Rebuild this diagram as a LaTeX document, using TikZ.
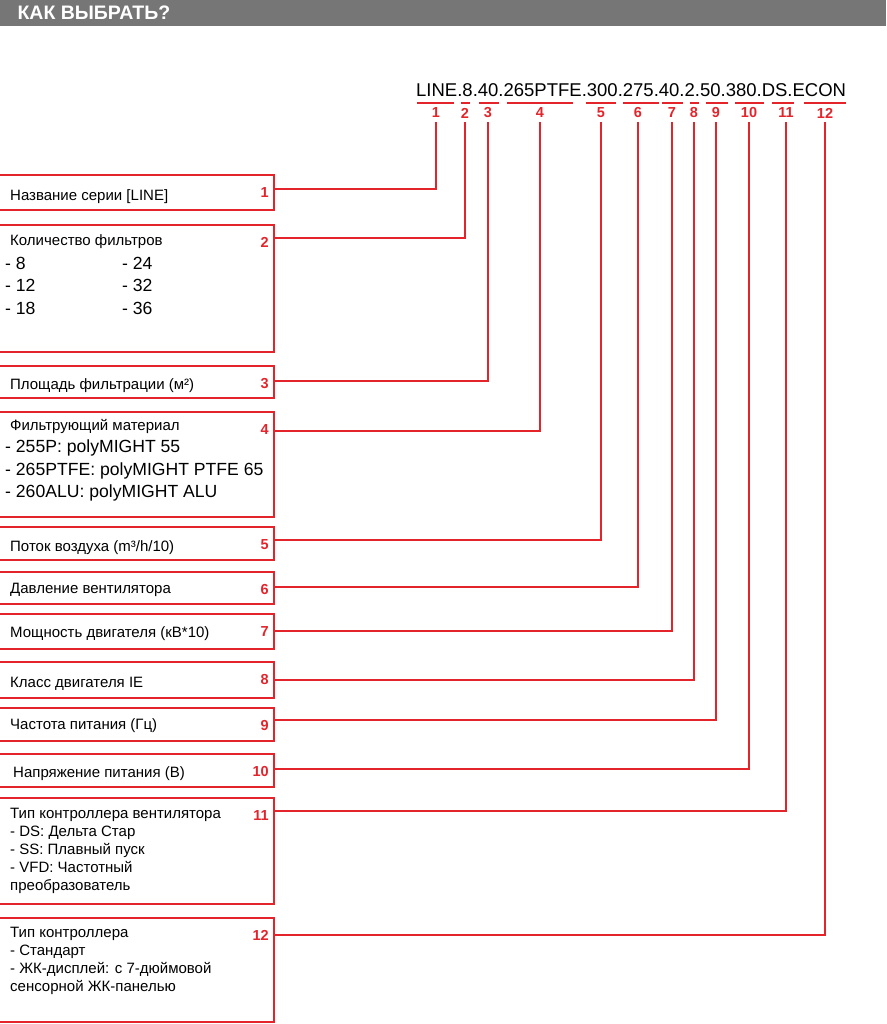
\documentclass[tikz,border=0pt]{standalone}
\usepackage{fontspec}
\setmainfont{Liberation Sans}
\definecolor{rd}{HTML}{E3242B}
\definecolor{hdr}{HTML}{767676}
\begin{document}
\begin{tikzpicture}[x=1pt,y=-1pt,
  box/.style={draw=rd,line width=1.5pt},
  ln/.style={draw=rd,line width=1.5pt},
  num/.style={text=rd,font=\bfseries\fontsize{14.5}{14}\selectfont,inner sep=0pt},
  txt/.style={anchor=north west,inner sep=0pt,font=\fontsize{15}{18}\selectfont,align=left},
  big/.style={font=\fontsize{17.6}{22.5}\selectfont}]
\useasboundingbox (0,0) rectangle (886,1024);
\fill[hdr] (0,0) rectangle (886,26);
\node[anchor=west,text=white,font=\bfseries\fontsize{19.5}{19}\selectfont] (hd) at (14,13) {КАК ВЫБРАТЬ?};
\node[anchor=base west,inner sep=0pt,font=\fontsize{18.5}{18}\selectfont] (code) at (416,97) {LINE.8.40.265PTFE.300.275.40.2.50.380.DS.ECON};
\foreach \i/\a/\b/\c/\y in {1/417/454/436/189, 2/461/470/465/238, 3/479/499/488/381, 4/507/573/540/431,
  5/586/616/601/540, 6/623/659/638/587, 7/662/683/672/631, 8/690/699/694/680, 9/706/728/716/720,
  10/735/764/749/769, 11/772/794/786/811, 12/804/846/825/935}{
  \draw[ln] (\a,103) -- (\b,103);
  \node[num] (n\i) at (\c,113) {\i};
  \coordinate (c\i) at (\c,\y);
  \coordinate (e\i) at (274,\y);
  \draw[ln] (\c,122) -- (c\i) -- (e\i);
}
\foreach \i/\t/\bb in {1/175/210,2/225/352,3/366/398,4/412/517,5/527/560,6/572/604,7/614/649,8/662/698,9/708/741,10/754/787,11/798/904,12/918/1022}{
  \draw[box] (-1,\t) rectangle (274,\bb);
  \node[num,anchor=north east] (b\i) at (269,\t+12) {\i};
}
\node[txt] (t1) at (10,189) {Название серии [LINE]};
\node[txt] (t2) at (10,234) {Количество фильтров};
\node[txt,big] (t2a) at (5,257) {- 8\\- 12\\- 18};
\node[txt,big] (t2b) at (122,257) {- 24\\- 32\\- 36};
\node[txt] (t3) at (10,378) {Площадь фильтрации (м²)};
\node[txt] (t4) at (10,419) {Фильтрующий материал};
\node[txt,big] (t4a) at (5,440) {- 255P: polyMIGHT 55\\- 265PTFE: polyMIGHT PTFE 65\\- 260ALU: polyMIGHT ALU};
\node[txt] (t5) at (10,540) {Поток воздуха (m³/h/10)};
\node[txt] (t6) at (10,583) {Давление вентилятора};
\node[txt] (t7) at (10,626) {Мощность двигателя (кВ*10)};
\node[txt] (t8) at (10,677) {Класс двигателя IE};
\node[txt] (t9) at (10,718) {Частота питания (Гц)};
\node[txt] (t10) at (13,766) {Напряжение питания (В)};
\node[txt] (t11) at (10,808) {Тип контроллера вентилятора\\- DS: Дельта Стар\\- SS: Плавный пуск\\- VFD: Частотный\\преобразователь};
\node[txt] (t12) at (10,927) {Тип контроллера\\- Стандарт\\- ЖК-дисплей: с 7-дюймовой\\сенсорной ЖК-панелью};
\end{tikzpicture}
\end{document}
